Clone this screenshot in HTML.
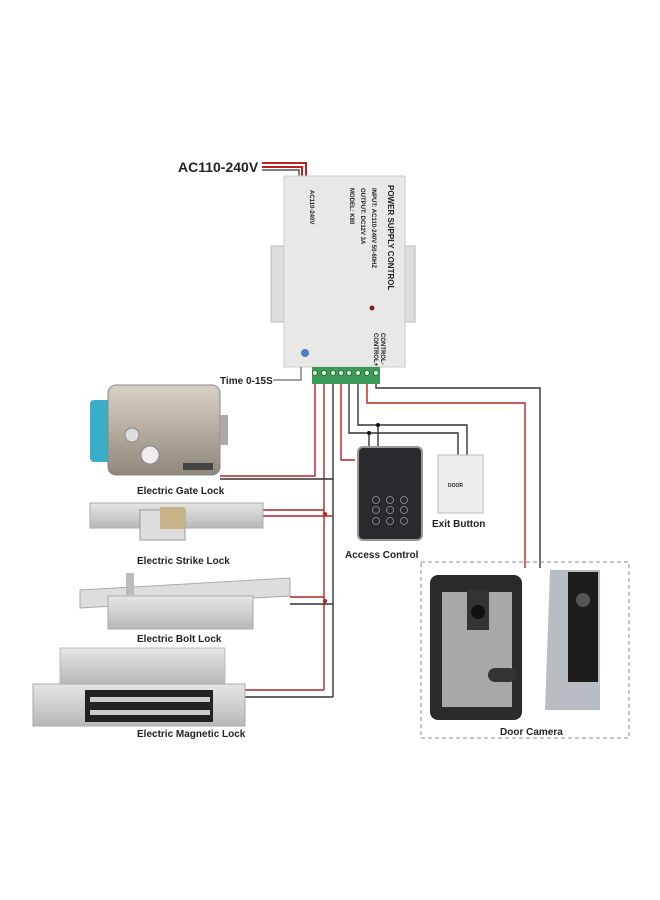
<!DOCTYPE html>
<html><head><meta charset="utf-8"><style>
body{margin:0;background:#fff}
svg{display:block}
text{font-family:"Liberation Sans",sans-serif;font-weight:bold;fill:#222}
</style></head><body>
<svg width="660" height="900" viewBox="0 0 660 900" xmlns="http://www.w3.org/2000/svg">
<rect width="660" height="900" fill="#fff"/>
<defs>
<linearGradient id="steel" x1="0" y1="0" x2="0" y2="1"><stop offset="0" stop-color="#d8d2c6"/><stop offset=".5" stop-color="#b5ad9f"/><stop offset="1" stop-color="#8e877b"/></linearGradient>
<linearGradient id="alu" x1="0" y1="0" x2="0" y2="1"><stop offset="0" stop-color="#e6e6e6"/><stop offset="1" stop-color="#b8b8b8"/></linearGradient>
</defs>
<text x="178" y="172" font-size="14">AC110-240V</text>
<path d="M262 163H306V178M262 167H302V178" stroke="#b22" stroke-width="2" fill="none"/>
<path d="M262 170H299V178" stroke="#555" stroke-width="1.5" fill="none"/>
<rect x="271" y="246" width="14" height="76" fill="#ddd" stroke="#bbb"/>
<rect x="404" y="246" width="11" height="76" fill="#ddd" stroke="#bbb"/>
<rect x="284" y="176" width="121" height="191" fill="#e8e8e6" stroke="#ccc"/>
<g transform="translate(388,185) rotate(90)"><text font-size="8" fill="#223a7a">POWER SUPPLY CONTROL</text></g>
<g transform="translate(372,188) rotate(90)"><text font-size="6" font-weight="normal" fill="#444">INPUT: AC110-240V 50-60HZ</text></g>
<g transform="translate(361,188) rotate(90)"><text font-size="6" font-weight="normal" fill="#444">OUTPUT: DC12V 3A</text></g>
<g transform="translate(350,188) rotate(90)"><text font-size="6" font-weight="normal" fill="#444">MODEL: K80</text></g>
<g transform="translate(310,190) rotate(90)"><text font-size="6" font-weight="normal" fill="#444">AC110-240V</text></g>
<circle cx="372" cy="308" r="2.5" fill="#722"/>
<g transform="translate(381,333) rotate(90)"><text font-size="6" font-weight="normal" fill="#444">CONTROL-</text></g>
<g transform="translate(374,333) rotate(90)"><text font-size="6" font-weight="normal" fill="#444">CONTROL+</text></g>
<circle cx="305" cy="353" r="4" fill="#4a7fc0"/>
<rect x="312" y="367" width="68" height="17" fill="#3a9a5a"/>
<g fill="#cfc" stroke="#333" stroke-width=".6">
<circle cx="315" cy="373" r="2.5"/><circle cx="324" cy="373" r="2.5"/><circle cx="333" cy="373" r="2.5"/><circle cx="341" cy="373" r="2.5"/><circle cx="349" cy="373" r="2.5"/><circle cx="358" cy="373" r="2.5"/><circle cx="367" cy="373" r="2.5"/><circle cx="376" cy="373" r="2.5"/></g>
<text x="220" y="384" font-size="10">Time 0-15S</text>
<path d="M273 380H301V367" stroke="#444" fill="none"/>
<g fill="none" stroke-width="1.4">
<path d="M376 384V388H540V568" stroke="#333"/>
<path d="M367 384V403H525V568" stroke="#b22"/>
<path d="M358 384V425H467V455" stroke="#333"/>
<path d="M349 384V433H458V455" stroke="#333"/>
<path d="M378 425V447M369 433V447" stroke="#333"/>
<path d="M341 384V460H355" stroke="#b22"/>
<path d="M333 384V697" stroke="#333"/>
<path d="M324 384V690" stroke="#b22"/>
<path d="M315 384V476H220" stroke="#b22"/>
<path d="M220 479H333" stroke="#333"/>
<path d="M263 510H324M263 516H333" stroke="#b22"/>
<path d="M290 597H324" stroke="#b22"/><path d="M290 604H333" stroke="#333"/>
<path d="M245 690H324" stroke="#b22"/><path d="M245 697H333" stroke="#333"/>
</g>
<circle cx="378" cy="425" r="2" fill="#111"/><circle cx="369" cy="433" r="2" fill="#111"/>
<circle cx="325" cy="514" r="2" fill="#b22"/><circle cx="325" cy="601" r="2" fill="#b22"/>
<rect x="90" y="400" width="25" height="62" rx="4" fill="#3aaec8"/>
<rect x="108" y="385" width="112" height="90" rx="8" fill="url(#steel)" stroke="#888"/>
<rect x="220" y="415" width="8" height="30" fill="#aaa"/>
<circle cx="132" cy="435" r="7" fill="#ddd" stroke="#888"/>
<circle cx="150" cy="455" r="9" fill="#eee" stroke="#888"/>
<rect x="183" y="463" width="30" height="7" fill="#444"/>
<text x="137" y="494" font-size="10">Electric Gate Lock</text>
<rect x="90" y="503" width="173" height="25" fill="url(#alu)" stroke="#aaa"/>
<rect x="140" y="510" width="45" height="30" fill="#ddd" stroke="#999"/>
<rect x="160" y="507" width="25" height="22" fill="#c9b48a"/>
<text x="137" y="564" font-size="10">Electric Strike Lock</text>
<polygon points="80,590 290,578 290,596 80,608" fill="#ddd" stroke="#aaa"/>
<rect x="108" y="596" width="145" height="33" fill="url(#alu)" stroke="#aaa"/>
<rect x="126" y="573" width="8" height="22" fill="#bbb"/>
<text x="137" y="642" font-size="10">Electric Bolt Lock</text>
<rect x="60" y="648" width="165" height="35" fill="url(#alu)" stroke="#bbb"/>
<rect x="33" y="684" width="212" height="42" fill="url(#alu)" stroke="#aaa"/>
<rect x="85" y="690" width="128" height="32" fill="#222"/>
<rect x="90" y="697" width="120" height="5" fill="#ccc"/><rect x="90" y="710" width="120" height="5" fill="#ccc"/>
<text x="137" y="737" font-size="10">Electric Magnetic Lock</text>
<rect x="358" y="447" width="64" height="93" rx="5" fill="#2a2a2e" stroke="#999" stroke-width="2"/>
<g fill="none" stroke="#999" stroke-width=".8">
<circle cx="376" cy="500" r="3.5"/><circle cx="390" cy="500" r="3.5"/><circle cx="404" cy="500" r="3.5"/>
<circle cx="376" cy="510" r="3.5"/><circle cx="390" cy="510" r="3.5"/><circle cx="404" cy="510" r="3.5"/>
<circle cx="376" cy="521" r="3.5"/><circle cx="390" cy="521" r="3.5"/><circle cx="404" cy="521" r="3.5"/></g>
<text x="345" y="558" font-size="10">Access Control</text>
<rect x="438" y="455" width="45" height="58" fill="#eee" stroke="#bbb"/>
<text x="448" y="487" font-size="5" font-weight="normal">DOOR</text>
<text x="432" y="527" font-size="10">Exit Button</text>
<rect x="421" y="562" width="208" height="176" fill="none" stroke="#888" stroke-dasharray="4,3"/>
<rect x="430" y="575" width="92" height="145" rx="8" fill="#2b2b2b"/>
<rect x="442" y="592" width="70" height="115" fill="#a8a8a8"/>
<rect x="467" y="590" width="22" height="40" fill="#333"/>
<circle cx="478" cy="612" r="7" fill="#111"/>
<rect x="488" y="668" width="28" height="14" rx="7" fill="#333"/>
<path d="M550 570H600V710H545Z" fill="#b8bcc3"/>
<rect x="568" y="572" width="30" height="110" fill="#1c1c1c"/>
<circle cx="583" cy="600" r="7" fill="#555"/>
<text x="500" y="735" font-size="10">Door Camera</text>
</svg>
</body></html>
